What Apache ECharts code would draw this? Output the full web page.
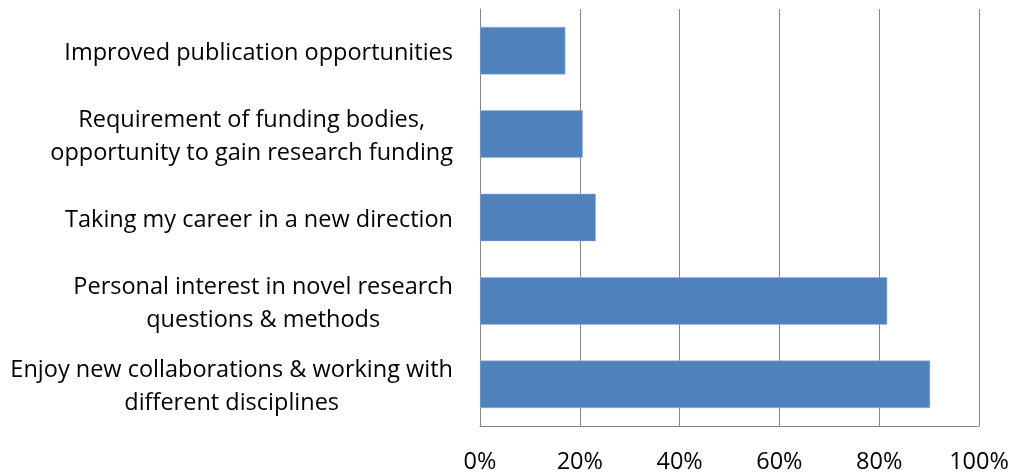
<!DOCTYPE html>
<html>
<head>
<meta charset="utf-8">
<script src="https://cdn.jsdelivr.net/npm/echarts@6/dist/echarts.min.js"></script>
<style>
  html, body { margin: 0; padding: 0; background: #fff; }
  #chart { width: 1013px; height: 476px; }
</style>
</head>
<body>
<div id="chart"></div>
<script>
// categories top to bottom
var categories = [
  'Improved publication opportunities',
  'Requirement of funding bodies,\nopportunity to gain research funding',
  'Taking my career in a new direction',
  'Personal interest in novel research\nquestions & methods',
  'Enjoy new collaborations & working with\ndifferent disciplines'
];
var values = [17.1, 20.6, 23.2, 81.6, 90.2];
var xTicks = [0, 20, 40, 60, 80, 100];

var chart = echarts.init(document.getElementById('chart'));
var font = '"Open Sans", Lato, sans-serif';

var option = {
  animation: false,
  backgroundColor: '#fff',
  grid: { left: 480, right: 34, top: 9, bottom: 50 },
  xAxis: {
    type: 'value',
    min: xTicks[0],
    max: xTicks[xTicks.length - 1],
    interval: 20,
    axisLine: { show: true, lineStyle: { color: '#868686', width: 1 } },
    axisTick: { show: false },
    splitLine: { show: true, lineStyle: { color: '#868686', width: 1 } },
    axisLabel: {
      color: '#000',
      fontFamily: font,
      fontSize: 23.5,
      margin: 24,
      formatter: function (v) { return v + '%'; }
    }
  },
  yAxis: {
    type: 'category',
    inverse: true,
    data: categories,
    axisLine: { show: true, lineStyle: { color: '#868686', width: 1 } },
    axisTick: { show: false },
    axisLabel: {
      color: '#000',
      fontFamily: font,
      fontSize: 23.5,
      margin: 27,
      interval: 0,
      padding: [5, 0, 0, 0],
      formatter: function (v) {
        return v.split('\n').map(function (l) { return '{c|' + l + '}'; }).join('\n');
      },
      rich: {
        c: { align: 'center', fontFamily: font, fontSize: 23.5, lineHeight: 33, color: '#000' }
      }
    }
  },
  series: [{
    type: 'bar',
    data: values,
    barCategoryGap: '43%',
    itemStyle: { color: '#4F81BD', borderColor: '#9DB5D9', borderWidth: 0.5 }
  }]
};
chart.setOption(option);
</script>
</body>
</html>
